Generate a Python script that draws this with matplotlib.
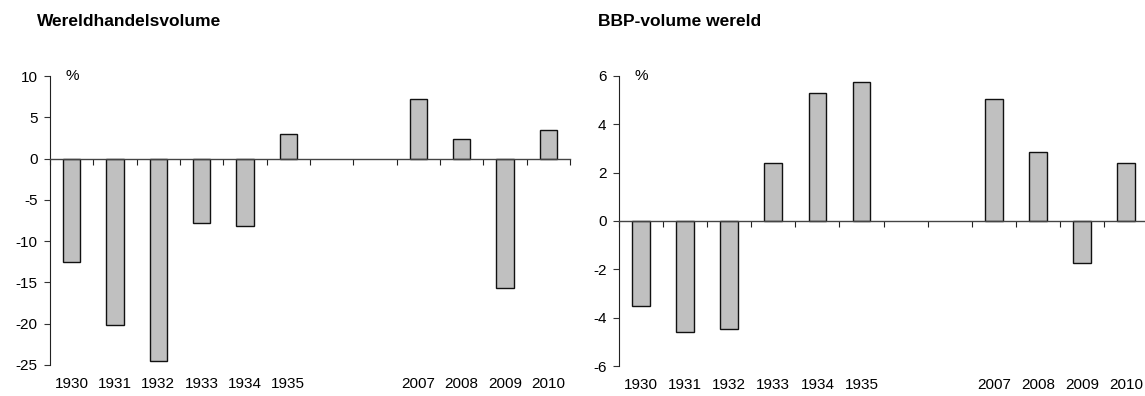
import numpy as np
import matplotlib.pyplot as plt

plt.rcParams['font.family'] = ['Liberation Sans', 'DejaVu Sans']

# categories: 1930-1935, two empty slots, 2007-2010
years = ['1930', '1931', '1932', '1933', '1934', '1935', '', '', '2007', '2008', '2009', '2010']

# world trade volume, % change
trade = [-12.5, -20.1, -24.5, -7.8, -8.2, 3.0, np.nan, np.nan, 7.2, 2.4, -15.7, 3.5]
# world GDP volume, % change
gdp = [-3.5, -4.58, -4.48, 2.42, 5.3, 5.77, np.nan, np.nan, 5.04, 2.85, -1.75, 2.38]

trade_ticks = [10, 5, 0, -5, -10, -15, -20, -25]
gdp_ticks = [6, 4, 2, 0, -2, -4, -6]

W, H = 1145, 396
fig = plt.figure(figsize=(W / 100, H / 100), dpi=100)

def panel(rect, values, ticks, title, title_x):
    ax = fig.add_axes(rect)
    x = np.arange(len(values))
    vals = np.array(values, dtype=float)
    ok = ~np.isnan(vals)
    ax.bar(x[ok], vals[ok], width=0.4, color='#c0c0c0', edgecolor='#111111', linewidth=1.0)

    ax.set_xlim(-0.5, len(values) - 0.5)
    ax.set_ylim(min(ticks), max(ticks))
    ax.set_yticks(ticks)
    ax.set_yticklabels([str(t) for t in ticks], fontsize=11)
    ax.tick_params(axis='y', direction='out', length=4.5, width=0.8, pad=4.5, color='#333333')

    # horizontal axis at zero with ticks between categories
    ax.spines['bottom'].set_position(('data', 0))
    ax.spines['top'].set_visible(False)
    ax.spines['right'].set_visible(False)
    ax.spines['left'].set_color('#222222')
    ax.spines['bottom'].set_color('#444444')
    ax.spines['left'].set_linewidth(0.8)
    ax.spines['bottom'].set_linewidth(1.0)
    ax.set_xticks(np.arange(len(values) + 1) - 0.5)
    ax.set_xticklabels([])
    ax.tick_params(axis='x', direction='out', length=4, width=0.8, color='#222222')

    # year labels sit below the plot area
    for i, lab in enumerate(years):
        ax.text(i, -0.065, lab, transform=ax.get_xaxis_transform(),
                ha='center', va='center', fontsize=11)

    ax.text(0.03, 1.0, '%', transform=ax.transAxes, ha='left', va='center', fontsize=11)
    fig.text(title_x, 1 - 22 / H, title, ha='left', va='center', fontsize=12.5, fontweight='bold')
    return ax

panel([50 / W, (H - 365) / H, 520 / W, 289 / H], trade, trade_ticks,
      'Wereldhandelsvolume', 37 / W)
panel([619 / W, (H - 366) / H, 529 / W, 290 / H], gdp, gdp_ticks,
      'BBP-volume wereld', 598 / W)

fig.savefig('out.png', dpi=100)
